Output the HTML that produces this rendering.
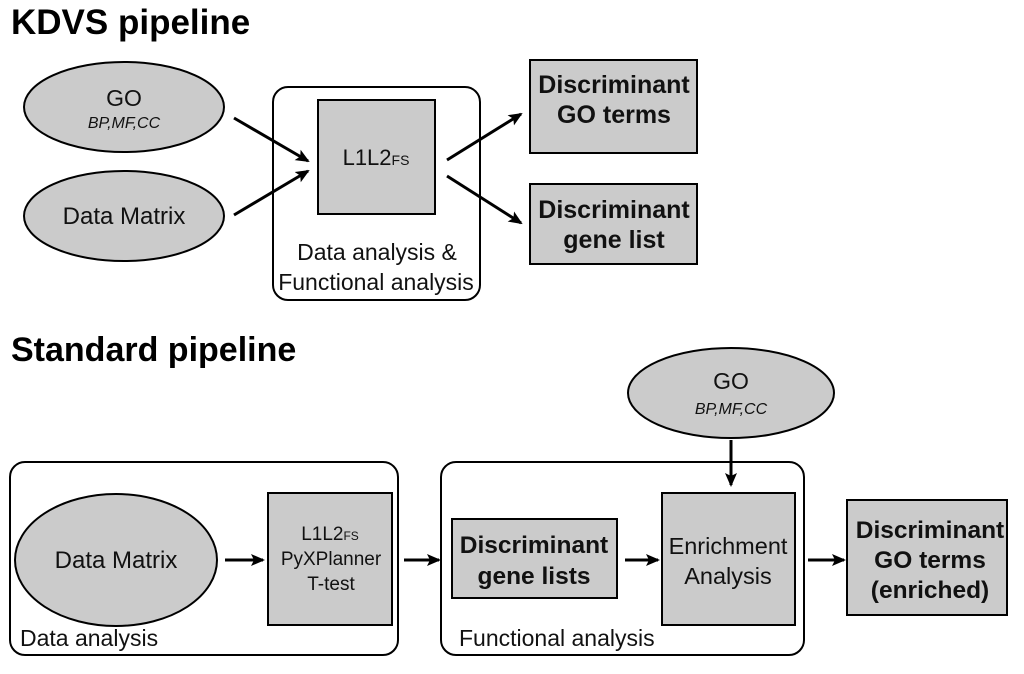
<!DOCTYPE html>
<html><head><style>
body{margin:0;background:#fff}
svg text{font-family:"Liberation Sans",Arial,sans-serif}
</style></head><body>
<svg width="1024" height="669" viewBox="0 0 1024 669" xmlns="http://www.w3.org/2000/svg">
<defs><marker id="a" markerWidth="14" markerHeight="14" refX="12" refY="7" orient="auto" markerUnits="userSpaceOnUse"><path d="M0,1 L14,7 L0,13 L3,7 Z" fill="#000"/></marker></defs>
<g stroke="#000" stroke-width="2" fill="#cbcbcb">
<text x="11" y="34" font-size="35" font-weight="bold" fill="#000" stroke="none">KDVS pipeline</text>
<ellipse cx="124" cy="107" rx="100" ry="45"/>
<ellipse cx="124" cy="216" rx="100" ry="45"/>
<rect x="273" y="87" width="207" height="213" rx="15" fill="#fff"/>
<rect x="318" y="100" width="117" height="114"/>
<rect x="530" y="60" width="167" height="93"/>
<rect x="530" y="184" width="167" height="80"/>
<g stroke-width="3" fill="none">
<line x1="234" y1="118" x2="308" y2="161" marker-end="url(#a)"/>
<line x1="234" y1="215" x2="308" y2="171" marker-end="url(#a)"/>
<line x1="447" y1="160" x2="521" y2="114" marker-end="url(#a)"/>
<line x1="447" y1="176" x2="521" y2="223" marker-end="url(#a)"/>
</g>
<text x="11" y="361" font-size="34" font-weight="bold" fill="#000" stroke="none">Standard pipeline</text>
<ellipse cx="731" cy="393" rx="103" ry="45"/>
<rect x="10" y="462" width="388" height="193" rx="15" fill="#fff"/>
<rect x="441" y="462" width="363" height="193" rx="15" fill="#fff"/>
<ellipse cx="116" cy="560" rx="101" ry="66"/>
<rect x="268" y="493" width="124" height="132"/>
<rect x="452" y="519" width="165" height="79"/>
<rect x="662" y="493" width="133" height="132"/>
<rect x="847" y="500" width="160" height="115"/>
<g stroke-width="3" fill="none">
<line x1="731" y1="440" x2="731" y2="485" marker-end="url(#a)"/>
<line x1="225" y1="560" x2="263" y2="560" marker-end="url(#a)"/>
<line x1="404" y1="560" x2="439" y2="560" marker-end="url(#a)"/>
<line x1="625" y1="560" x2="658" y2="560" marker-end="url(#a)"/>
<line x1="808" y1="560" x2="844" y2="560" marker-end="url(#a)"/>
</g>
</g>
<g fill="#111" text-anchor="middle">
<text x="124" y="106" font-size="23">GO</text>
<text x="124" y="128" font-size="16" font-style="italic">BP,MF,CC</text>
<text x="124" y="224" font-size="24">Data Matrix</text>
<text x="376" y="165" font-size="22">L1L2<tspan font-size="14">FS</tspan></text>
<text x="377" y="260" font-size="23">Data analysis &amp;</text>
<text x="376" y="290" font-size="23">Functional analysis</text>
<text x="614" y="93" font-size="25" font-weight="bold">Discriminant</text>
<text x="614" y="123" font-size="25" font-weight="bold">GO terms</text>
<text x="614" y="218" font-size="25" font-weight="bold">Discriminant</text>
<text x="614" y="248" font-size="25" font-weight="bold">gene list</text>
<text x="731" y="389" font-size="23">GO</text>
<text x="731" y="414" font-size="16" font-style="italic">BP,MF,CC</text>
<text x="116" y="568" font-size="24">Data Matrix</text>
<text x="330" y="540" font-size="19">L1L2<tspan font-size="12">FS</tspan></text>
<text x="331" y="565" font-size="19">PyXPlanner</text>
<text x="331" y="590" font-size="19">T-test</text>
<text x="534" y="553" font-size="24.5" font-weight="bold">Discriminant</text>
<text x="534" y="584" font-size="24.5" font-weight="bold">gene lists</text>
<text x="728" y="554" font-size="23.5">Enrichment</text>
<text x="728" y="584" font-size="23.5">Analysis</text>
<text x="930" y="538" font-size="24.5" font-weight="bold">Discriminant</text>
<text x="930" y="568" font-size="24.5" font-weight="bold">GO terms</text>
<text x="930" y="598" font-size="24.5" font-weight="bold">(enriched)</text>
</g>
<g fill="#111" font-size="23">
<text x="20" y="646">Data analysis</text>
<text x="459" y="646">Functional analysis</text>
</g>
</svg>
</body></html>
